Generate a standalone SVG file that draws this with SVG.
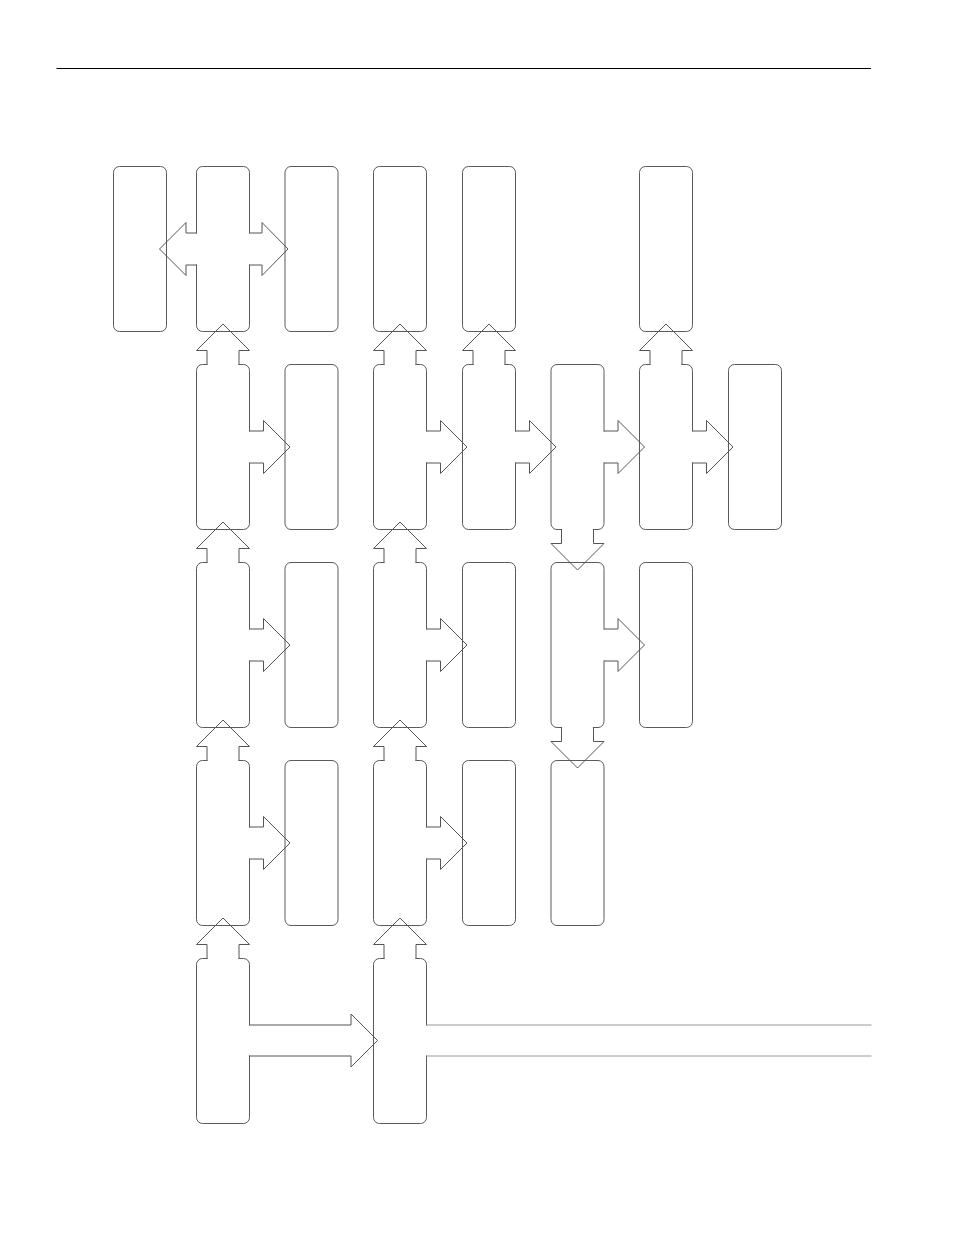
<svg xmlns="http://www.w3.org/2000/svg" xmlns:xlink="http://www.w3.org/1999/xlink" width="954" height="1235" viewBox="0 0 954 1235">
<style>
.box{fill:#fff;stroke:#5a5a5a;stroke-width:1}
.ln{fill:none;stroke:#555;stroke-width:1;stroke-linejoin:miter}
.msk{fill:#fff;stroke:none}
.far{fill:none;stroke:#9a9a9a;stroke-width:1}
</style>
<defs>
<g id="ar"><rect class="msk" x="-1.3" y="-15.4" width="2.6" height="30.8"/><path class="ln" d="M0 -16H14V-26.5L40.5 0L14 26.5V16H0"/></g>
</defs>
<rect width="954" height="1235" fill="#fff"/>
<line x1="56.5" y1="68.5" x2="871" y2="68.5" stroke="#000" stroke-width="1.2"/>
<g id="nodes">
<g id="A1"><rect class="box" x="113.5" y="166.5" width="53" height="165" rx="6"/></g>
<g id="B1"><rect class="box" x="196.5" y="166.5" width="53" height="165" rx="6"/></g>
<g id="C1"><rect class="box" x="285" y="166.5" width="53" height="165" rx="6"/></g>
<g id="D1"><rect class="box" x="373.5" y="166.5" width="53" height="165" rx="6"/></g>
<g id="E1"><rect class="box" x="462.5" y="166.5" width="53" height="165" rx="6"/></g>
<g id="G1"><rect class="box" x="639.5" y="166.5" width="53" height="165" rx="6"/></g>
<g id="B2"><rect class="box" x="196.5" y="364.5" width="53" height="165" rx="6"/></g>
<g id="C2"><rect class="box" x="285" y="364.5" width="53" height="165" rx="6"/></g>
<g id="D2"><rect class="box" x="373.5" y="364.5" width="53" height="165" rx="6"/></g>
<g id="E2"><rect class="box" x="462.5" y="364.5" width="53" height="165" rx="6"/></g>
<g id="F2"><rect class="box" x="551" y="364.5" width="53" height="165" rx="6"/></g>
<g id="G2"><rect class="box" x="639.5" y="364.5" width="53" height="165" rx="6"/></g>
<g id="H2"><rect class="box" x="728.5" y="364.5" width="53" height="165" rx="6"/></g>
<g id="B3"><rect class="box" x="196.5" y="562.5" width="53" height="165" rx="6"/></g>
<g id="C3"><rect class="box" x="285" y="562.5" width="53" height="165" rx="6"/></g>
<g id="D3"><rect class="box" x="373.5" y="562.5" width="53" height="165" rx="6"/></g>
<g id="E3"><rect class="box" x="462.5" y="562.5" width="53" height="165" rx="6"/></g>
<g id="F3"><rect class="box" x="551" y="562.5" width="53" height="165" rx="6"/></g>
<g id="G3"><rect class="box" x="639.5" y="562.5" width="53" height="165" rx="6"/></g>
<g id="B4"><rect class="box" x="196.5" y="760.5" width="53" height="165" rx="6"/></g>
<g id="C4"><rect class="box" x="285" y="760.5" width="53" height="165" rx="6"/></g>
<g id="D4"><rect class="box" x="373.5" y="760.5" width="53" height="165" rx="6"/></g>
<g id="E4"><rect class="box" x="462.5" y="760.5" width="53" height="165" rx="6"/></g>
<g id="F4"><rect class="box" x="551" y="760.5" width="53" height="165" rx="6"/></g>
<g id="B5"><rect class="box" x="196.5" y="958.5" width="53" height="165" rx="6"/></g>
<g id="D5"><rect class="box" x="373.5" y="958.5" width="53" height="165" rx="6"/></g>
</g>
<g id="connectors">
<!-- double arrow B1 -->
<rect class="msk" x="195.2" y="233.6" width="2.6" height="30.8"/>
<rect class="msk" x="248.2" y="233.6" width="2.6" height="30.8"/>
<path class="ln" d="M196.5 233H186V222.5L159.5 249L186 275.5V265H196.5"/>
<path class="ln" d="M249.5 233H262V222.5L288 249L262 275.5V265H249.5"/>
<!-- up arrows -->
<use href="#ar" transform="translate(223,364.5) rotate(-90)"/>
<use href="#ar" transform="translate(223,562.5) rotate(-90)"/>
<use href="#ar" transform="translate(223,760.5) rotate(-90)"/>
<use href="#ar" transform="translate(223,958.5) rotate(-90)"/>
<use href="#ar" transform="translate(400,364.5) rotate(-90)"/>
<use href="#ar" transform="translate(400,562.5) rotate(-90)"/>
<use href="#ar" transform="translate(400,760.5) rotate(-90)"/>
<use href="#ar" transform="translate(400,958.5) rotate(-90)"/>
<use href="#ar" transform="translate(489,364.5) rotate(-90)"/>
<use href="#ar" transform="translate(666,364.5) rotate(-90)"/>
<!-- right arrows -->
<use href="#ar" transform="translate(249.5,447)"/>
<use href="#ar" transform="translate(249.5,645)"/>
<use href="#ar" transform="translate(249.5,843)"/>
<use href="#ar" transform="translate(426.5,447)"/>
<use href="#ar" transform="translate(515.5,447)"/>
<use href="#ar" transform="translate(604,447)"/>
<use href="#ar" transform="translate(692.5,447)"/>
<use href="#ar" transform="translate(426.5,645)"/>
<use href="#ar" transform="translate(604,645)"/>
<use href="#ar" transform="translate(426.5,843)"/>
<!-- down arrows -->
<use href="#ar" transform="translate(577.5,529.5) rotate(90)"/>
<use href="#ar" transform="translate(577.5,727.5) rotate(90)"/>
<!-- B5 to D5 -->
<rect class="msk" x="248.2" y="1025.6" width="2.6" height="29.8"/>
<path class="ln" d="M249.5 1025H351V1014L377.5 1040.5L351 1067V1056H249.5"/>
<!-- D5 outgoing band -->
<rect class="msk" x="425.2" y="1025.6" width="2.6" height="29.8"/>
<path class="far" d="M426.5 1025H871.5M426.5 1056H871.5"/>
</g>
</svg>
